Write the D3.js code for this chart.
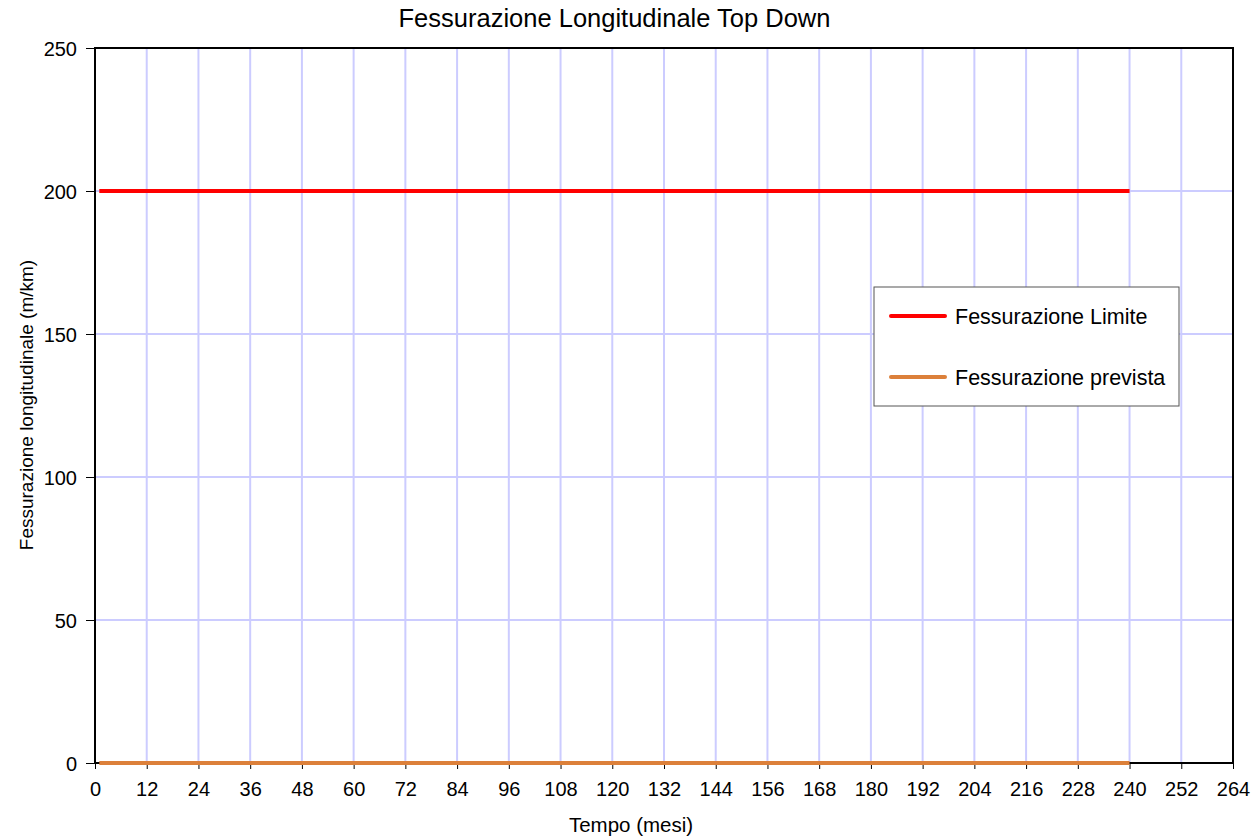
<!DOCTYPE html>
<html lang="it">
  <head>
    <meta charset="utf-8">
    <title>Fessurazione Longitudinale Top Down</title>
    <style>
      body { margin: 0; background: white; }
      svg { font-family: "Liberation Sans", Arial, sans-serif; }
    </style>
    <script src="https://cdn.jsdelivr.net/npm/d3@7"></script>
  </head>
  <body>
    <svg id="chart" width="1257" height="839"></svg>
    <script>
      // --- data ---
      var xTicks = [0,12,24,36,48,60,72,84,96,108,120,132,144,156,168,180,192,204,216,228,240,252,264];
      var yTicks = [0,50,100,150,200,250];
      var months = [1, 240];
      var limite = [200, 200];   // Fessurazione Limite
      var prevista = [0, 0];     // Fessurazione prevista
      var seriesNames = ["Fessurazione Limite", "Fessurazione prevista"];
      var seriesColors = ["#ff0000", "#dc803a"];

      var svg = d3.select('#chart');
      var pLeft = 95, pRight = 1233, pTop = 48, pBottom = 763;

      var x = d3.scaleLinear().domain([0, 264]).range([pLeft, pRight]);
      var y = d3.scaleLinear().domain([0, 250]).range([pBottom, pTop]);

      // grid
      svg.append('g').selectAll('line').data(xTicks.slice(1, -1)).enter()
        .append('line')
        .attr('x1', d => x(d)).attr('x2', d => x(d))
        .attr('y1', pTop).attr('y2', pBottom)
        .style('stroke', '#ccccff').style('stroke-width', 2);
      svg.append('g').selectAll('line').data(yTicks.slice(1, -1)).enter()
        .append('line')
        .attr('x1', pLeft).attr('x2', pRight)
        .attr('y1', d => y(d)).attr('y2', d => y(d))
        .style('stroke', '#ccccff').style('stroke-width', 2);

      // plot border
      svg.append('rect')
        .attr('x', pLeft).attr('y', pTop)
        .attr('width', pRight - pLeft).attr('height', pBottom - pTop)
        .style('fill', 'none').style('stroke', 'black').style('stroke-width', 2);

      // axes
      var xAxis = svg.append('g').attr('transform', 'translate(0,' + pBottom + ')')
        .call(d3.axisBottom(x).tickValues(xTicks).tickSize(6).tickSizeOuter(0));
      var yAxis = svg.append('g').attr('transform', 'translate(' + pLeft + ',0)')
        .call(d3.axisLeft(y).tickValues(yTicks).tickSize(9).tickSizeOuter(0));
      [xAxis, yAxis].forEach(function (a) {
        a.select('.domain').remove();
        a.selectAll('line').style('stroke', 'black');
        a.selectAll('text').style('font-size', '20px')
          .style('font-family', '"Liberation Sans", Arial, sans-serif').style('fill', 'black');
      });
      xAxis.selectAll('text').attr('y', 33).attr('dy', 0);
      yAxis.selectAll('text').attr('x', -18).attr('dy', '0.35em');

      // series
      var line = d3.line().x(d => x(d[0])).y(d => y(d[1]));
      [limite, prevista].forEach(function (vals, i) {
        svg.append('path')
          .datum(months.map((m, k) => [m, vals[k]]))
          .attr('d', line)
          .style('fill', 'none')
          .style('stroke', seriesColors[i])
          .style('stroke-width', 4);
      });

      // titles
      svg.append('text').attr('x', 614.5).attr('y', 27)
        .attr('text-anchor', 'middle').style('font-size', '25.5px')
        .text('Fessurazione Longitudinale Top Down');
      svg.append('text').attr('x', 631).attr('y', 832)
        .attr('text-anchor', 'middle').style('font-size', '20.5px')
        .text('Tempo (mesi)');
      svg.append('text')
        .attr('transform', 'translate(33,405) rotate(-90)')
        .attr('text-anchor', 'middle').style('font-size', '19px')
        .text('Fessurazione longitudinale (m/km)');

      // legend
      var lg = svg.append('g').attr('transform', 'translate(874,287)');
      lg.append('rect').attr('width', 305).attr('height', 119)
        .style('fill', 'white').style('stroke', '#555').style('stroke-width', 1);
      seriesNames.forEach(function (name, i) {
        var ly = 29 + i * 61;
        lg.append('line').attr('x1', 17).attr('x2', 71).attr('y1', ly).attr('y2', ly)
          .style('stroke', seriesColors[i]).style('stroke-width', 4).style('stroke-linecap', 'round');
        lg.append('text').attr('x', 81).attr('y', ly + 8)
          .style('font-size', '21.5px').text(name);
      });
    </script>
  </body>
</html>
